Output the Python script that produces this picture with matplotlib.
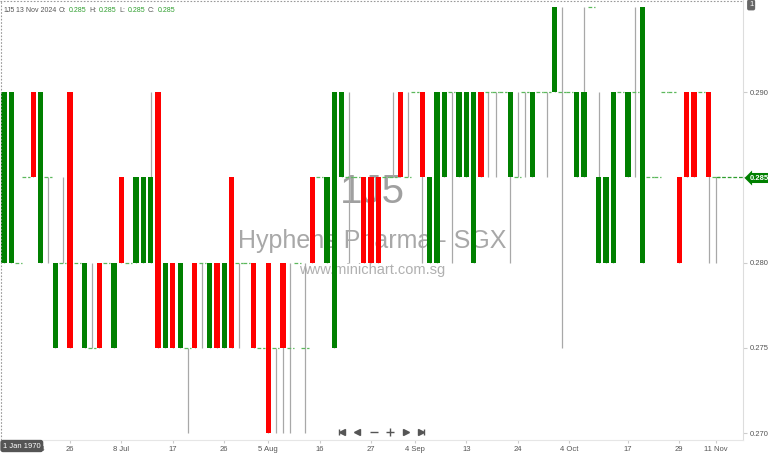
import numpy as np
import matplotlib
matplotlib.use("Agg")
import matplotlib.pyplot as plt
from matplotlib.lines import Line2D

# daily OHLC for 1J5
opens  = [0.280, 0.280, 0.280, 0.285, 0.290, 0.280, 0.285, 0.275, 0.280, 0.290,
          0.280, 0.275, 0.275, 0.280, 0.280, 0.275, 0.285, 0.280, 0.280, 0.280,
          0.280, 0.290, 0.275, 0.280, 0.275, 0.275, 0.280, 0.280, 0.275, 0.280,
          0.275, 0.285, 0.280, 0.280, 0.280, 0.275, 0.280, 0.275, 0.280, 0.275,
          0.280, 0.275, 0.285, 0.285, 0.280, 0.275, 0.285, 0.285, 0.285, 0.285,
          0.285, 0.285, 0.285, 0.285, 0.290, 0.285, 0.290, 0.290, 0.280, 0.280,
          0.285, 0.290, 0.285, 0.285, 0.280, 0.290, 0.290, 0.290, 0.290, 0.285,
          0.285, 0.290, 0.285, 0.290, 0.290, 0.290, 0.290, 0.290, 0.285, 0.285,
          0.295, 0.280, 0.280, 0.280, 0.290, 0.285, 0.290, 0.280, 0.285, 0.285,
          0.290, 0.290, 0.285, 0.290, 0.290, 0.290, 0.290, 0.285]
closes = [0.290, 0.290, 0.280, 0.285, 0.285, 0.290, 0.285, 0.280, 0.280, 0.275,
          0.280, 0.280, 0.275, 0.275, 0.280, 0.280, 0.280, 0.280, 0.285, 0.285,
          0.285, 0.275, 0.280, 0.275, 0.280, 0.275, 0.275, 0.280, 0.280, 0.275,
          0.280, 0.275, 0.280, 0.280, 0.275, 0.275, 0.270, 0.275, 0.275, 0.275,
          0.280, 0.275, 0.280, 0.285, 0.285, 0.290, 0.290, 0.285, 0.285, 0.280,
          0.280, 0.280, 0.285, 0.285, 0.285, 0.285, 0.290, 0.285, 0.285, 0.290,
          0.290, 0.290, 0.290, 0.290, 0.290, 0.285, 0.290, 0.290, 0.290, 0.290,
          0.285, 0.290, 0.290, 0.290, 0.290, 0.295, 0.290, 0.290, 0.290, 0.290,
          0.295, 0.285, 0.285, 0.290, 0.290, 0.290, 0.290, 0.295, 0.285, 0.285,
          0.290, 0.290, 0.280, 0.285, 0.285, 0.290, 0.285, 0.285]
highs  = [0.290, 0.290, 0.280, 0.285, 0.290, 0.290, 0.285, 0.280, 0.285, 0.290,
          0.280, 0.280, 0.280, 0.280, 0.280, 0.280, 0.285, 0.280, 0.285, 0.285,
          0.290, 0.290, 0.280, 0.280, 0.280, 0.275, 0.280, 0.280, 0.280, 0.280,
          0.280, 0.285, 0.280, 0.280, 0.280, 0.275, 0.280, 0.275, 0.280, 0.280,
          0.280, 0.280, 0.285, 0.285, 0.285, 0.290, 0.290, 0.290, 0.285, 0.285,
          0.285, 0.285, 0.285, 0.290, 0.290, 0.290, 0.290, 0.290, 0.285, 0.290,
          0.290, 0.290, 0.290, 0.290, 0.290, 0.290, 0.290, 0.290, 0.290, 0.290,
          0.290, 0.290, 0.290, 0.290, 0.290, 0.295, 0.295, 0.290, 0.290, 0.295,
          0.295, 0.290, 0.285, 0.290, 0.290, 0.290, 0.295, 0.295, 0.285, 0.285,
          0.290, 0.290, 0.285, 0.290, 0.290, 0.290, 0.290, 0.285]
lows   = [0.280, 0.280, 0.280, 0.285, 0.285, 0.280, 0.280, 0.275, 0.280, 0.275,
          0.280, 0.275, 0.275, 0.275, 0.280, 0.275, 0.280, 0.280, 0.280, 0.280,
          0.280, 0.275, 0.275, 0.275, 0.275, 0.270, 0.275, 0.275, 0.275, 0.275,
          0.275, 0.275, 0.275, 0.280, 0.275, 0.275, 0.270, 0.270, 0.270, 0.270,
          0.280, 0.270, 0.280, 0.285, 0.280, 0.275, 0.285, 0.280, 0.285, 0.280,
          0.280, 0.280, 0.285, 0.285, 0.285, 0.285, 0.290, 0.280, 0.280, 0.280,
          0.285, 0.280, 0.285, 0.285, 0.280, 0.285, 0.285, 0.285, 0.290, 0.280,
          0.285, 0.285, 0.285, 0.290, 0.285, 0.290, 0.275, 0.290, 0.285, 0.285,
          0.295, 0.280, 0.280, 0.280, 0.290, 0.285, 0.285, 0.280, 0.285, 0.285,
          0.290, 0.290, 0.280, 0.285, 0.285, 0.290, 0.280, 0.280]

tick_pos = [5, 9, 16, 23, 30, 36, 43, 50, 56, 63, 70, 77, 85, 92, 97]
tick_lbl = ["14", "26", "8 Jul", "17", "26", "5 Aug", "16", "27", "4 Sep",
            "13", "24", "4 Oct", "17", "29", "11 Nov"]
price_ticks = [0.270, 0.275, 0.280, 0.285, 0.290]
last_price = closes[-1]

W, H = 768, 454
plt.rcParams['font.family'] = ['Liberation Sans', 'DejaVu Sans']
fig = plt.figure(figsize=(W / 100, H / 100), dpi=100)

ax = fig.add_axes([0, 14 / H, 743 / W, 440 / H])
ax.set_xlim(-0.545, 100.68)
ax.set_ylim(0.26959, 0.29541)

x = np.arange(len(opens))
o = np.array(opens); c = np.array(closes)
hi = np.array(highs); lo = np.array(lows)
up = c > o
dn = c < o
flat = c == o

# wicks
wk = hi > lo
ax.vlines(x[wk], lo[wk], hi[wk], color="#a8a8a8", lw=0.9, zorder=2)
# bodies
ax.bar(x[up], (c - o)[up], bottom=o[up], width=0.72, color="#008000", zorder=3, lw=0)
ax.bar(x[dn], (c - o)[dn], bottom=o[dn], width=0.72, color="#ff0000", zorder=3, lw=0)
# doji marks
ax.hlines(c[flat], x[flat] - 0.5, x[flat] + 0.5, color="#5cb85c", lw=0.9,
          linestyles=(0, (3, 1.5)), zorder=3)
# last price line
ax.hlines(last_price, x[-1], 100.68, color="#2e9e2e", lw=0.9,
          linestyles=(0, (3, 1.5)), zorder=3)

# axes look
for s in ["top", "left"]:
    ax.spines[s].set_visible(False)
ax.spines["right"].set_color("#dddddd")
ax.spines["bottom"].set_color("#e6e6e6")
ax.yaxis.tick_right()
ax.set_yticks(price_ticks)
ax.set_yticklabels(["%.3f" % p for p in price_ticks])
ax.tick_params(axis="y", length=3, color="#cccccc", labelsize=5.5,
               labelcolor="#555555", pad=2)
ax.set_xticks(tick_pos)
ax.set_xticklabels(tick_lbl)
ax.tick_params(axis="x", length=2, color="#cccccc", labelsize=5.5,
               labelcolor="#555555", pad=2)

# watermark
ax.text(372 / 743, 1 - 192 / 440, "1J5", transform=ax.transAxes, ha="center",
        va="center", fontsize=29, color="#a0a0a0", zorder=1)
ax.text(372 / 743, 1 - 241 / 440, "Hyphens Pharma - SGX", transform=ax.transAxes,
        ha="center", va="center", fontsize=18, color="#a8a8a8", zorder=1)
ax.text(372 / 743, 1 - 270 / 440, "www.minichart.com.sg", transform=ax.transAxes,
        ha="center", va="center", fontsize=10.5, color="#b0b0b0", zorder=1)

# dotted frame top / left
fig.add_artist(Line2D([0, 743 / W], [1 - 0.5 / H, 1 - 0.5 / H], color="#999999",
                      lw=0.8, ls=(0, (1.5, 1.5))))
fig.add_artist(Line2D([0.5 / W, 0.5 / W], [14 / H, 1], color="#999999",
                      lw=0.8, ls=(0, (1.5, 1.5))))

# header text
def px(xp, yp):
    return xp / W, 1 - yp / H

hdr = [(3, "1J5", "#555555"), (16, "13 Nov 2024", "#555555"), (59, "O:", "#555555"),
       (69, "0.285", "#2e9e2e"), (89, "H:", "#555555"), (99, "0.285", "#2e9e2e"),
       (119, "L:", "#555555"), (128, "0.285", "#2e9e2e"), (148, "C:", "#555555"),
       (158, "0.285", "#2e9e2e")]
for xp, t, col in hdr:
    fig.text(*px(xp, 10), t, fontsize=5.0, color=col, va="center", ha="left")

# right side boxes
fig.text(*px(749, 5), "1", fontsize=5.5, color="white", va="center", ha="left",
         bbox=dict(boxstyle="round,pad=0.25", fc="#666666", ec="none"))
fig.text(*px(750, 178), "%.3f" % last_price, fontsize=5.5, color="white",
         va="center", ha="left", fontweight="bold",
         bbox=dict(boxstyle="larrow,pad=0.2", fc="#008000", ec="none"))
fig.text(*px(3, 446), "1 Jan 1970", fontsize=5.5, color="white", va="center",
         ha="left", bbox=dict(boxstyle="round,pad=0.35", fc="#555555", ec="none"))

# navigation buttons
nav_y = 1 - 432 / H
for xp, m, ms in [(339, "|", 5), (342, "<", 4), (357, "<", 4), (374, "_", 6),
                  (390, "+", 6), (406, ">", 4), (421, ">", 4), (424, "|", 5)]:
    fig.add_artist(Line2D([xp / W], [nav_y], marker=m, ms=ms, color="#555555",
                          mec="#555555", lw=0))

fig.savefig("out.png", dpi=100)
